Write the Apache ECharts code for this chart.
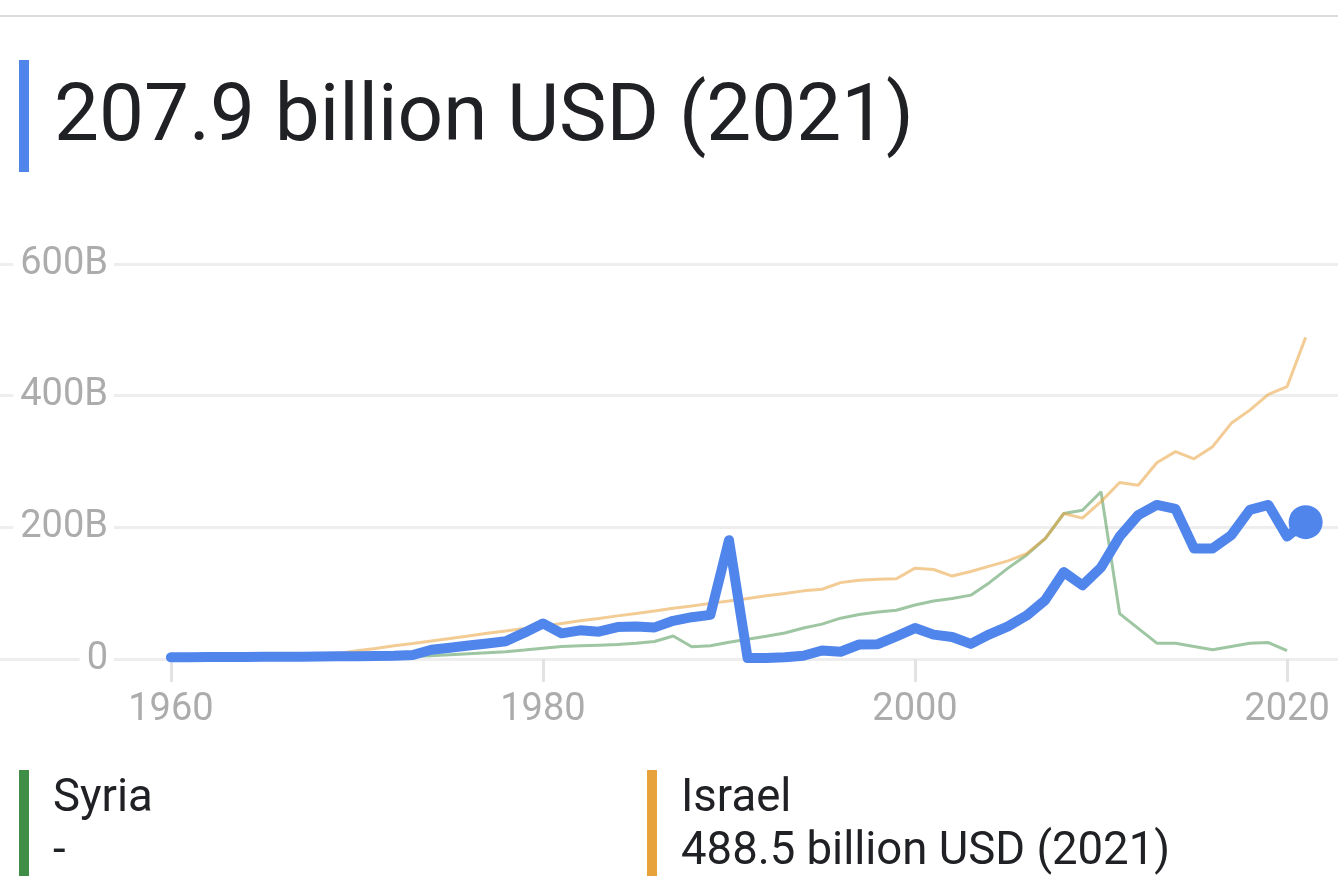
<!DOCTYPE html>
<html>
<head>
<meta charset="utf-8">
<script src="https://cdn.jsdelivr.net/npm/echarts@6/dist/echarts.min.js"></script>
<style>
html,body{margin:0;padding:0;background:#fff;}
#chart{width:1338px;height:888px;}
</style>
</head>
<body>
<div id="chart"></div>
<script>
// ---- data ----
const years = [];
for (let y = 1960; y <= 2021; y++) years.push(y);

const iraq = [2.5,2.7,2.9,3.0,3.2,3.4,3.5,3.6,3.8,4.0,
  4.2,4.5,4.8,6.0,14,17,20.5,23.5,27,40,
  54,39,43.5,41.5,48.5,49.5,48,58,63.5,67,
  180.5,1.5,1.5,2.5,5,13,11,22,22.5,34.5,
  47,37,33.5,23,37.5,49.5,66,89.5,132,112,
  139,186,218.5,234,228,168,168,188,226.5,234,
  186,207.9];

const israel = [2.5,3,3.5,4,4.5,5,5.5,6,7,8.5,
  12.5,16,20,23.5,27.5,31,35,39,42.5,46.5,
  50,54,58,61.5,65.5,69,73,77,80.5,84.5,
  88,92,96,99.5,103.5,106,116,119.5,121,122,
  138,136,126,133,141,149,160,183,221,214,
  239,268,264,298,315,304,322.5,358,378,402,
  413.6,488.5];

const syria = [1.0,1.2,1.4,1.5,1.6,1.7,1.7,1.9,2.0,2.3,
  2.4,2.7,3.3,3.8,5,6.5,8,9.5,11,13.5,
  16.5,19,20,21,22,24,26.5,35,18.5,20,
  25.5,30,34.5,39.5,47,53,62,67.5,71.5,74,
  82,88,92,97,116,138,158,183,221,226,
  254,69,46.5,24,24,19,14,19,24,25,
  12.6,null];

const xTicks = [1960, 1980, 2000, 2020];
const yTicks = [0, 200, 400, 600];
const titleText = '207.9 billion USD (2021)';
const legendItems = [
  {name: 'Syria', value: '-'},
  {name: 'Israel', value: '488.5 billion USD (2021)'}
];

// ---- chart ----
const BLUE = '#5085ec';
const pairs = arr => years.map((y, i) => [y, arr[i]]);
const lastIdx = iraq.length - 1;

const chart = echarts.init(document.getElementById('chart'));
const FONT = 'Roboto';

const option = {
  animation: false,
  backgroundColor: '#fff',
  grid: {left: 0, right: 0, top: 264, bottom: 229, containLabel: false},
  xAxis: {
    type: 'value',
    min: 1950.81,
    max: 2022.74,
    axisLine: {show: false},
    splitLine: {show: false},
    axisTick: {show: true, customValues: xTicks, length: 23, lineStyle: {color: '#e3e3e3', width: 3}},
    axisLabel: {
      customValues: xTicks, margin: 32, fontFamily: FONT, fontSize: 38, lineHeight: 38,
      color: '#acacac', formatter: v => String(v)
    }
  },
  yAxis: {
    type: 'value',
    min: 0, max: 600, interval: 200,
    axisLine: {show: false},
    axisTick: {show: false},
    splitLine: {show: true, lineStyle: {color: '#eeeeee', width: 3}},
    axisLabel: {
      margin: -114, align: 'right', fontFamily: FONT, fontSize: 38, color: '#acacac',
      backgroundColor: '#fff', padding: [2, 6, 2, 7],
      formatter: v => v === 0 ? '0' : v + 'B'
    }
  },
  graphic: [
    {type: 'rect', left: 0, top: 15, shape: {width: 1338, height: 2}, style: {fill: '#dadce0'}},
    {type: 'rect', left: 19, top: 60, shape: {width: 10, height: 112}, style: {fill: BLUE}},
    {type: 'text', x: 54, y: 120, style: {text: titleText, font: '80px Roboto', fill: '#202124', verticalAlign: 'middle'}},
    {type: 'rect', left: 19, top: 770, shape: {width: 10, height: 106}, style: {fill: '#3e8e45'}},
    {type: 'text', x: 53, y: 800, style: {text: legendItems[0].name, font: '45.5px Roboto', fill: '#202124', verticalAlign: 'middle'}},
    {type: 'text', x: 53, y: 853, style: {text: legendItems[0].value, font: '45.5px Roboto', fill: '#202124', verticalAlign: 'middle'}},
    {type: 'rect', left: 647, top: 770, shape: {width: 10, height: 106}, style: {fill: '#e8a23c'}},
    {type: 'text', x: 681, y: 800, style: {text: legendItems[1].name, font: '45.5px Roboto', fill: '#202124', verticalAlign: 'middle'}},
    {type: 'text', x: 681, y: 853, style: {text: legendItems[1].value, font: '45.5px Roboto', fill: '#202124', verticalAlign: 'middle'}}
  ],
  series: [
    {
      name: 'Syria', type: 'line', data: pairs(syria), showSymbol: false, connectNulls: false,
      lineStyle: {color: 'rgba(62,142,69,0.5)', width: 3}, z: 2
    },
    {
      name: 'Israel', type: 'line', data: pairs(israel), showSymbol: false,
      lineStyle: {color: 'rgba(232,162,60,0.55)', width: 3}, z: 3
    },
    {
      name: 'Iraq', type: 'line', data: pairs(iraq), showSymbol: false,
      lineStyle: {color: BLUE, width: 10, cap: 'round', join: 'round'}, z: 4
    },
    {
      name: 'IraqLast', type: 'scatter', data: [[years[lastIdx], iraq[lastIdx]]],
      symbolSize: 34, itemStyle: {color: BLUE, opacity: 1}, z: 5
    }
  ]
};
chart.setOption(option);
</script>
</body>
</html>
